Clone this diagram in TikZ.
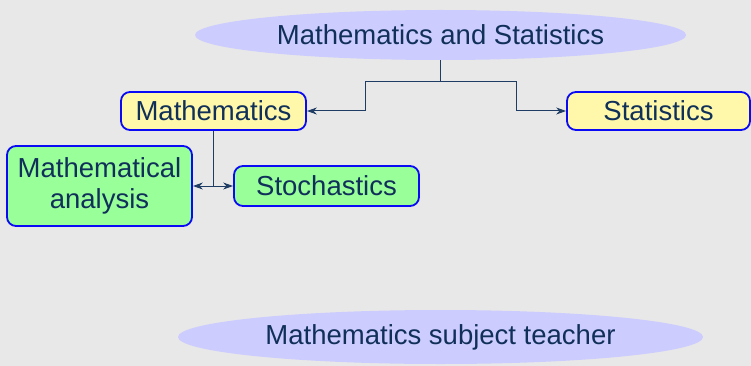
\documentclass[tikz,border=0pt]{standalone}
\usepackage{fontspec}
\setmainfont{Liberation Sans}
\usetikzlibrary{shapes.geometric,arrows.meta}
\definecolor{bg}{HTML}{E8E8E8}
\definecolor{ellfill}{HTML}{CCCCFF}
\definecolor{yel}{HTML}{FFF8AA}
\definecolor{grn}{HTML}{99FF99}
\definecolor{bord}{HTML}{0A0AF5}
\definecolor{ink}{HTML}{10305A}
\definecolor{wire}{HTML}{1E3C64}
\tikzset{
  ell/.style={ellipse, fill=ellfill, draw=none, inner sep=0pt, text=ink, font=\fontsize{27.5}{30}\selectfont},
  box/.style={rounded corners=9pt, draw=bord, line width=1.8pt, inner sep=0pt, text=ink, align=center, font=\fontsize{27.5}{31}\selectfont},
  wirestyle/.style={draw=wire, line width=1pt},
  arr/.style={wirestyle, -{Stealth[length=10pt,width=7pt]}},
  darr/.style={wirestyle, {Stealth[length=10pt,width=7pt]}-{Stealth[length=10pt,width=7pt]}}
}
\begin{document}
\begin{tikzpicture}[x=1pt,y=-1pt]
\fill[bg] (0,0) rectangle (751,366);
\clip (0,0) rectangle (751,366);
\node[ell, minimum width=491pt, minimum height=50pt] (top) at (440.5,35) {Mathematics and Statistics};
\node[ell, minimum width=525pt, minimum height=54pt] (bot) at (440.5,337) {Mathematics subject teacher};
\node[box, fill=yel, minimum width=185pt, minimum height=38pt] (math) at (213.5,111) {Mathematics};
\node[box, fill=yel, minimum width=183pt, minimum height=38pt] (stat) at (658.5,111) {Statistics};
\node[box, fill=grn, minimum width=185pt, minimum height=80pt] (ana) at (99.5,186) {Mathematical\\analysis};
\node[box, fill=grn, minimum width=185pt, minimum height=40pt] (sto) at (326.5,186) {Stochastics};
\coordinate (j) at (440.5,82);
\coordinate (jl) at (365,82);
\coordinate (jr) at (516,82);
\draw[wirestyle] (top.south) -- (j);
\draw[arr] (j) -- (jl) |- (math.east);
\draw[arr] (j) -- (jr) |- (stat.west);
\coordinate (k) at (math.south |- sto.west);
\draw[wirestyle] (math.south) -- (k);
\draw[darr] (ana.east) -- (sto.west);
\end{tikzpicture}
\end{document}
